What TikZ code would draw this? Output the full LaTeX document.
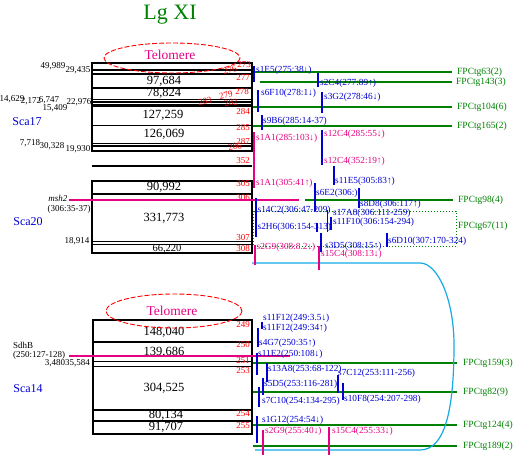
\documentclass[tikz,border=0pt]{standalone}
\usepackage{fontspec}
\setmainfont{Liberation Serif}
\definecolor{dg}{RGB}{0,128,0}
\definecolor{nb}{RGB}{0,0,210}
\definecolor{mg}{RGB}{230,0,130}
\definecolor{cy}{RGB}{20,170,230}
\newcommand\fsz[1]{\fontsize{#1}{#1}\selectfont}
\begin{document}
\begin{tikzpicture}[x=1pt,y=-1pt,
  blk/.style={draw=black,line width=1.3pt},
  hl/.style={draw=black,line width=1.1pt},
  thl/.style={draw=black,line width=0.75pt},
  t9/.style={inner sep=0,font=\fsz{9}},
  rn/.style={inner sep=0,text=red,font=\fsz{9}},
  pb/.style={inner sep=0,anchor=west,text=nb,font=\fsz{9.3}},
  pm/.style={pb,text=mg},
  fp/.style={inner sep=0,anchor=west,text=dg,font=\fsz{9.5}},
  bn/.style={inner sep=0,font=\fsz{12.5}},
  sca/.style={inner sep=0,text=nb,font=\fsz{12}},
  gl/.style={draw=dg,line width=1.3pt},
  bl/.style={draw=nb,line width=1.2pt},
  ml/.style={draw=mg,line width=1.2pt},
  telo/.style={draw=red,line width=0.9pt,dash pattern=on 5pt off 2pt},
  tlt/.style={inner sep=0,text=mg,font=\fsz{13.5}}]
\useasboundingbox (0,0) rectangle (514,455);
% title
\node[inner sep=0,text=dg,font=\fsz{22}] (title) at (170,15) {Lg XI};
% ---------- Sca17 ----------
\draw[blk] (92,63) rectangle (252,151);
\foreach \yy in {70,74,88,106,125.5}
  \draw[hl] (92,\yy) -- (252,\yy);
\foreach \yy in {99.3,100.9,102.4,104,143.3,145,146.8}
  \draw[thl] (92,\yy) -- (252,\yy);
\draw[hl] (92,166) -- (252,166);
\node[bn] (n97) at (164,81) {97,684};
\node[bn] (n78) at (164,93.5) {78,824};
\node[bn] (n127) at (163,115.5) {127,259};
\node[bn] (n126) at (164,134) {126,069};
\node[t9] (a1) at (53,66) {49,989};
\node[t9] (a2) at (78,70) {29,435};
\node[t9] (a3) at (12,99) {14,629};
\node[t9] (a4) at (31,101.5) {2,172};
\node[t9] (a5) at (49,100.5) {6,747};
\node[t9] (a6) at (55,108.5) {15,409};
\node[t9] (a7) at (79,102) {22,976};
\node[t9] (a8) at (30,143) {7,718};
\node[t9] (a9) at (52,146) {30,328};
\node[t9] (a10) at (78,149) {19,930};
\node[sca] (s17) at (27,122) {Sca17};
\node[rn] (r273) at (244,65) {273};
\node[rn,rotate=15] (r276) at (230,70) {276};
\node[rn] (r277) at (243,78) {277};
\node[rn] (r278) at (242,92) {278};
\node[rn,rotate=15] (r279) at (226,95) {279};
\node[rn,rotate=10] (r283) at (205,101) {283};
\node[rn,rotate=10] (r282) at (231,102.5) {282};
\node[rn] (r284) at (243,112) {284};
\node[rn] (r285) at (243,128) {285};
\node[rn] (r287) at (243,141.5) {287};
\node[rn,rotate=10] (r286) at (235,146.5) {286};
\node[rn] (r352) at (243,161) {352};
% telomere top
\draw[telo] (172,58) ellipse [x radius=68,y radius=15];
\node[tlt] (tel1) at (170,55) {Telomere};
% ---------- Sca20 ----------
\draw[blk] (92,181) rectangle (252,253);
\draw[hl] (92,194) -- (252,194);
\foreach \yy in {241.3,244}
  \draw[thl] (92,\yy) -- (252,\yy);
\node[bn] (n90) at (164,187.5) {90,992};
\node[bn] (n331) at (164,218) {331,773};
\node[inner sep=0,font=\fsz{10.5}] (n66) at (167,248.5) {66,220};
\node[t9] (a11) at (77,241) {18,914};
\node[inner sep=0,font=\fsz{9}\itshape] (msh) at (58,198) {msh2};
\node[t9] (msh2b) at (69,209) {(306:35-37)};
\node[sca] (s20) at (28,222) {Sca20};
\node[rn] (r305) at (243,184) {305};
\node[rn] (r306) at (243,198) {306};
\node[rn] (r307) at (243,238) {307};
\node[rn] (r308) at (243,248.5) {308};
% ---------- Sca14 ----------
\draw[blk] (93,320) rectangle (252,434);
\foreach \yy in {342,410,421}
  \draw[hl] (93,\yy) -- (252,\yy);
\foreach \yy in {361,366}
  \draw[thl] (93,\yy) -- (252,\yy);
\node[bn] (n148) at (164,332) {148,040};
\node[bn] (n139) at (164,352) {139,686};
\node[bn] (n304) at (164,388) {304,525};
\node[bn] (n80) at (166,415.5) {80,134};
\node[bn] (n91) at (166,427.5) {91,707};
\node[t9,anchor=west] (sdh) at (13,345) {SdhB};
\node[t9,anchor=west] (sdh2) at (13,355) {(250:127-128)};
\node[t9] (a12) at (55,363) {3,480};
\node[t9] (a13) at (77.5,363) {35,584};
\node[sca] (s14) at (28,389) {Sca14};
\node[rn] (r249) at (243,325) {249};
\node[rn] (r250) at (243,345) {250};
\node[rn] (r251) at (243,361) {251};
\node[rn] (r253) at (243,371) {253};
\node[rn] (r254) at (243,414) {254};
\node[rn] (r255) at (243,426) {255};
% telomere bottom
\draw[telo] (174,311) ellipse [x radius=68,y radius=17];
\node[tlt] (tel2) at (172,311) {Telomere};
% ---------- FPC contig lines ----------
\draw[gl] (253,72) -- (452,72);   \node[fp] (f63) at (457,72) {FPCtg63(2)};
\draw[gl] (260,82) -- (452,82);   \node[fp] (f143) at (456,82) {FPCtg143(3)};
\draw[gl] (253,107) -- (452,107); \node[fp] (f104) at (457,107) {FPCtg104(6)};
\draw[gl] (253,126) -- (452,126); \node[fp] (f165) at (457,126) {FPCtg165(2)};
\draw[gl] (305,200) -- (453,200); \node[fp] (f98) at (458,200) {FPCtg98(4)};
\draw[draw=dg,line width=1pt,dotted] (253,211) rectangle (456,246);
\node[fp] (f67) at (458,226.5) {FPCtg67(11)};
\draw[gl] (253,363) -- (457,363); \node[fp] (f159) at (463,363) {FPCtg159(3)};
\draw[gl] (253,392) -- (457,392); \node[fp] (f82) at (463,392) {FPCtg82(9)};
\draw[gl] (253,425) -- (457,425); \node[fp] (f124) at (463,425) {FPCtg124(4)};
\draw[gl] (253,446) -- (457,446); \node[fp] (f189) at (463,446) {FPCtg189(2)};
% magenta gene lines
\draw[ml] (69,200) -- (299,200);
\draw[ml] (69,356) -- (290,356);
% cyan outline
\draw[draw=cy,line width=1.2pt] (252,263) -- (420,263) .. controls (438,263) and (454,300) .. (454,345) .. controls (454,410) and (445,450) .. (420,450) -- (255,450);
% ---------- probes top ----------
\draw[bl] (254,66) -- (254,82);   \node[pb] (p1) at (256,70) {s1E5(275:38↓)};
\draw[bl] (318,72.5) -- (318,87); \node[pb] (p2) at (320,83) {s2C4(277:89↑)};
\draw[bl] (258,90) -- (258,112);  \node[pb] (p3) at (261,93) {s6F10(278:1↓)};
\draw[bl] (322,91.5) -- (322,113);\node[pb] (p4) at (324,97) {s3G2(278:46↓)};
\draw[bl] (262,115) -- (262,130); \node[pb] (p5) at (263,121) {s9B6(285:14-37)};
\draw[ml] (254,132) -- (254,188);
\node[pm] (p6) at (256,138) {s1A1(285:103↓)};
\node[pm] (p7) at (256,183) {s1A1(305:41↑)};
\draw[bl] (322,130) -- (322,165);
\node[pm] (p8) at (324,134) {s12C4(285:55↓)};
\node[pm] (p9) at (324,161) {s12C4(352:19↑)};
\draw[bl] (334,166) -- (334,185); \node[pb] (p10) at (335,181) {s11E5(305:83↑)};
\draw[bl] (315,183) -- (315,211); \node[pb] (p11) at (316,193) {s6E2(306:)};
\draw[bl] (359,188) -- (359,208); \node[pb] (p12) at (360,204) {s8D8(306:117↑)};
\draw[bl] (256,198) -- (256,237);
\node[pb] (p13) at (257.5,210) {s14C2(306:47-209)};
\node[pb] (p14) at (257.5,227) {s2H6(306:154-313)};
\draw[bl] (317,223) -- (317,232);
\draw[bl] (327.7,210) -- (327.7,232);
\draw[bl] (331,217) -- (331,230);
\node[pb] (p15) at (333,213) {s17A8(306:111-259)};
\node[pb] (p16) at (333,222) {s11F10(306:154-294)};
\draw[bl] (321,233) -- (321,252); \node[pb] (p17) at (325,246.5) {s3D5(308:15↑)};
\draw[bl] (387,233) -- (387,247); \node[pb] (p18) at (388,241) {s6D10(307:170-324)};
\draw[ml] (255,245) -- (255,265); \node[pm] (p19) at (256.5,247) {s2G9(308:8.2↓)};
\draw[ml] (319,246) -- (319,270); \node[pm] (p20) at (321,254.5) {s15C4(308:13↓)};
% ---------- probes bottom ----------
\draw[bl] (262,322) -- (262,329);
\node[pb] (p21) at (263,318) {s11F12(249:3.5↓)};
\node[pb] (p22) at (263,328) {s11F12(249:34↑)};
\draw[bl] (258,328) -- (258,347); \node[pb] (p23) at (259,343) {s4G7(250:35↑)};
\draw[bl] (257,353) -- (257,375); \node[pb] (p24) at (258,354) {s11E2(250:108↓)};
\draw[bl] (267,363) -- (267,382); \node[pb] (p25) at (268,369) {s13A8(253:68-122)};
\node[pb] (p26) at (338,373) {s7C12(253:111-256)};
\draw[bl] (338,375) -- (338,393);
\draw[bl] (343,383) -- (343,400); \node[pb] (p27) at (344,399) {s10F8(254:207-298)};
\draw[bl] (263,378) -- (263,395); \node[pb] (p28) at (264,384) {s5D5(253:116-281)};
\draw[bl] (259,387) -- (259,407); \node[pb] (p29) at (262,401) {s7C10(254:134-295)};
\draw[bl] (257,416) -- (257,443); \node[pb] (p30) at (262,420) {s1G12(254:54↓)};
\draw[ml] (263,430) -- (263,455); \node[pm] (p31) at (265,431) {s2G9(255:40↓)};
\draw[ml] (329,427) -- (329,455); \node[pm] (p32) at (332,431) {s15C4(255:33↓)};
\end{tikzpicture}
\end{document}
